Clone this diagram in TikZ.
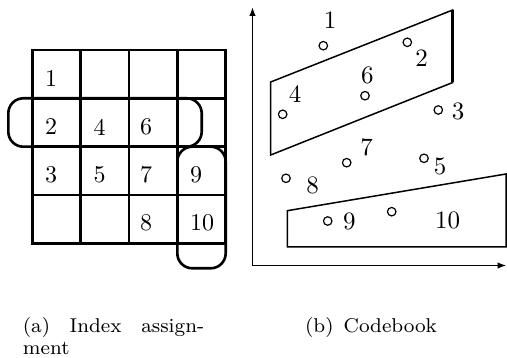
\documentclass[tikz,border=0pt]{standalone}
\usepackage{graphicx}
\usetikzlibrary{arrows.meta}
% text set at a small design size and magnified
\newcommand\magtext[3]{\scalebox{#1}{\fontsize{#2}{#2}\selectfont #3}}
\begin{document}
\begin{tikzpicture}[x=1pt,y=-1pt,
  gridline/.style={line width=2.5pt, line cap=rect},
  groupbox/.style={line width=2.6pt, rounded corners=15pt},
  cbline/.style={line width=1.5pt, line join=miter},
  axes/.style={line width=1.5pt, {Latex[length=9pt,width=6.5pt]}-{Latex[length=9pt,width=6.5pt]}},
  cell/.style={anchor=west, inner sep=0pt},
  vec/.style={circle, draw, line width=1.2pt, minimum size=8.5pt, inner sep=0pt},
  lbl/.style={inner sep=0pt},
  captext/.style={anchor=base west, inner sep=0pt}]
\useasboundingbox (0,0) rectangle (507,358);

% ---- (a) index assignment: 4x4 table ----
\foreach \x in {32.3,80.7,129,177.3,225.7}
  \draw[gridline] (\x,50) -- (\x,243.3);
\foreach \y in {50,98.3,146.7,195,243.3}
  \draw[gridline] (32.3,\y) -- (225.7,\y);

% groups of indices
\draw[groupbox] (8.3,98.3) rectangle (201.7,146.7);
\draw[groupbox] (177.3,146.7) rectangle (225.7,268.3);

% index entries
\node[cell] (a1)  at (45,79)    {\magtext{2.4}{10}{1}};
\node[cell] (a2)  at (45,127)   {\magtext{2.4}{10}{2}};
\node[cell] (a4)  at (93.5,127) {\magtext{2.4}{10}{4}};
\node[cell] (a6)  at (140,127)  {\magtext{2.4}{10}{6}};
\node[cell] (a3)  at (45,175)   {\magtext{2.4}{10}{3}};
\node[cell] (a5)  at (93.5,175) {\magtext{2.4}{10}{5}};
\node[cell] (a7)  at (140,175)  {\magtext{2.4}{10}{7}};
\node[cell] (a9)  at (190,175)  {\magtext{2.4}{10}{9}};
\node[cell] (a8)  at (140,223)  {\magtext{2.4}{10}{8}};
\node[cell] (a10) at (190,223)  {\magtext{2.4}{10}{10}};

% ---- (b) codebook ----
\coordinate (ytip) at (252.5,7);
\coordinate (orig) at (252.5,265.5);
\coordinate (xtip) at (506.5,265.5);
\draw[axes] (ytip) -- (orig) -- (xtip);

% decision regions
\draw[cbline] (270.7,82) -- (452.7,10) -- (452.7,82.5) -- (270.7,155) -- cycle;
\draw[line width=3pt] (452.7,10) -- (452.7,82.5);
\draw[cbline] (287.3,210.7) -- (506,174) -- (506,247) -- (287.3,247) -- cycle;

% code vectors
\node[vec] (c1)  at (323.3,45.7)  {};
\node[vec] (c2)  at (407.3,42.3)  {};
\node[vec] (c6)  at (365,95.7)    {};
\node[vec] (c4)  at (282.7,114.3) {};
\node[vec] (c3)  at (438.3,110)   {};
\node[vec] (c7)  at (346.7,162.7) {};
\node[vec] (c5)  at (424,158.3)   {};
\node[vec] (c8)  at (286,178.3)   {};
\node[vec] (c9)  at (327.7,221)   {};
\node[vec] (c10) at (391.7,211.7) {};

% their indices
\node[lbl] (l1)  at (330,20)     {\magtext{2.5}{10}{1}};
\node[lbl] (l2)  at (421.7,57.7) {\magtext{2.5}{10}{2}};
\node[lbl] (l6)  at (367.3,75.7) {\magtext{2.5}{10}{6}};
\node[lbl] (l4)  at (295,94.3)   {\magtext{2.5}{10}{4}};
\node[lbl] (l3)  at (458,111.7)  {\magtext{2.5}{10}{3}};
\node[lbl] (l7)  at (366.7,147)  {\magtext{2.5}{10}{7}};
\node[lbl] (l5)  at (440,166.7)  {\magtext{2.5}{10}{5}};
\node[lbl] (l8)  at (312.7,185)  {\magtext{2.5}{10}{8}};
\node[lbl] (l9)  at (349.3,221.7){\magtext{2.5}{10}{9}};
\node[lbl] (l10) at (447.7,220)  {\magtext{2.5}{10}{10}};

% ---- captions ----
\node[captext] (capa)  at (22.7,333) {\magtext{2.5}{8}{\hbox to 72.5pt{(a)\hfil Index\hfil assign-}}};
\node[captext] (capa2) at (22.7,355) {\magtext{2.5}{8}{ment}};
\node[captext] (capb)  at (305,333)  {\magtext{2.5}{8}{\hbox to 52.7pt{(b)\hfil Codebook}}};
\end{tikzpicture}
\end{document}
